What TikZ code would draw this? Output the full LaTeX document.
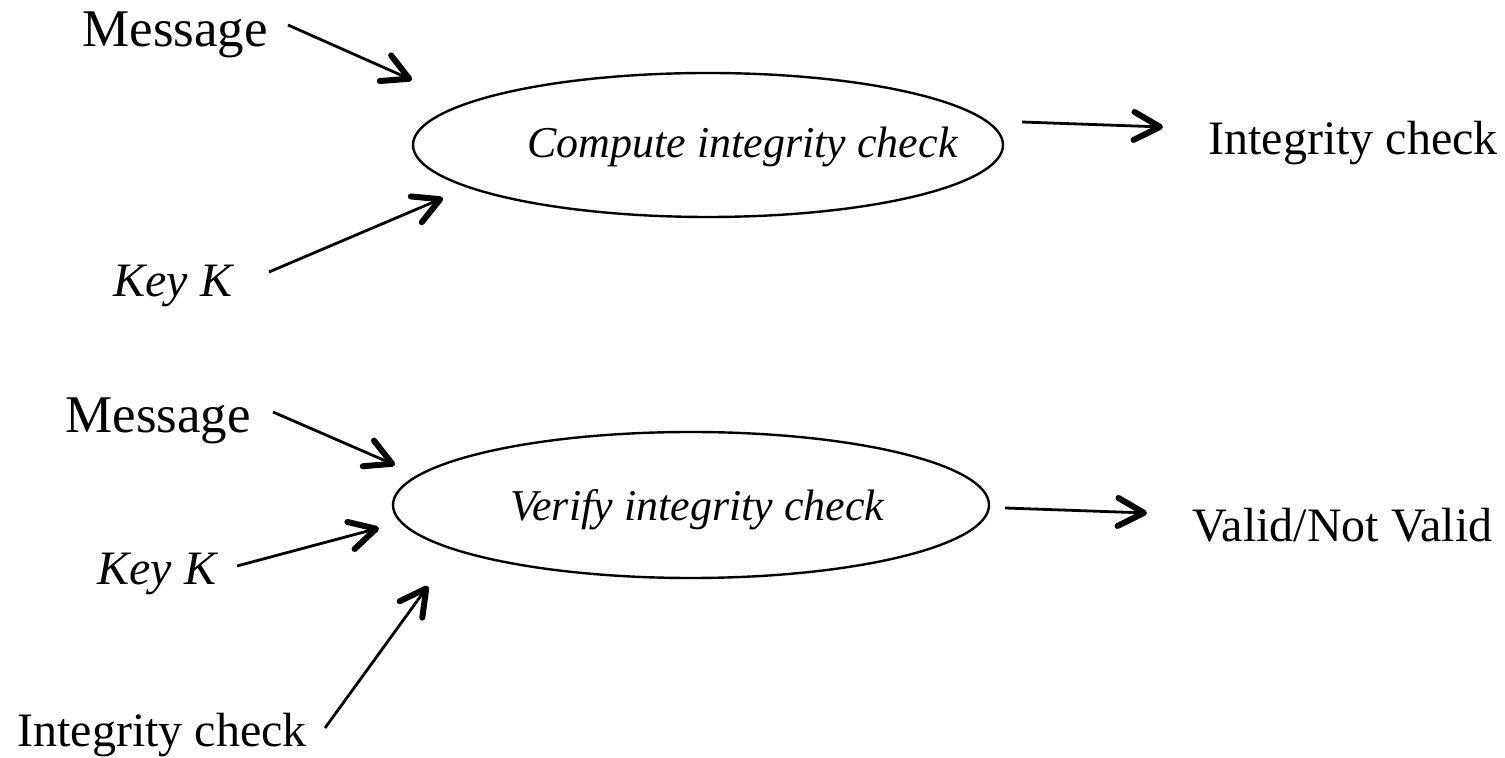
\documentclass[tikz,border=0pt]{standalone}
\usepackage{fontspec}
\setmainfont{Liberation Serif}
\usetikzlibrary{arrows.meta,shapes.geometric}
\begin{document}
\begin{tikzpicture}[x=0.5pt,y=-0.5pt,
  lbl/.style={anchor=base west,inner sep=0pt,font=\fontsize{24}{28}\selectfont},
  biglbl/.style={anchor=base west,inner sep=0pt,font=\fontsize{26.5}{30}\selectfont},
  itlbl/.style={anchor=base west,inner sep=0pt,font=\fontsize{24}{28}\selectfont\itshape},
  proclbl/.style={anchor=base west,inner sep=0pt,font=\fontsize{22}{26}\selectfont\itshape},
  proc/.style={draw,ellipse,line width=1.2pt,inner sep=0pt},
  arr/.style={line width=1.4pt,-{Straight Barb[length=13pt,width=14pt,line width=3pt,round]}}]
\useasboundingbox (0,0) rectangle (1505,758);

% processes
\node[proc,minimum width=295pt,minimum height=72pt] (e1) at (708,145) {};
\node[proclbl] (c1) at (527,158) {Compute integrity check};
\node[proc,minimum width=298pt,minimum height=73pt] (e2) at (691,505) {};
\node[proclbl] (c2) at (510,521) {Verify integrity check};

% inputs and outputs of the computation
\node[biglbl] (m1) at (82,47) {Message};
\node[itlbl] (k1) at (113,297) {Key K};
\node[lbl] (i1) at (1208,155) {Integrity check};

% inputs and outputs of the verification
\node[biglbl] (m2) at (65,433) {Message};
\node[itlbl] (k2) at (97,585) {Key K};
\node[lbl] (i2) at (17,747) {Integrity check};
\node[lbl] (v2) at (1192,542) {Valid/Not Valid};

% connector end points
\coordinate (m1s) at (288,25);  \coordinate (m1t) at (412,80);
\coordinate (k1s) at (269,272); \coordinate (k1t) at (443,198);
\coordinate (o1s) at (1022,122);\coordinate (o1t) at (1163,127);
\coordinate (m2s) at (273,412); \coordinate (m2t) at (395,465);
\coordinate (k2s) at (237,566); \coordinate (k2t) at (379,528);
\coordinate (i2s) at (325,728); \coordinate (i2t) at (428,586);
\coordinate (o2s) at (1005,508);\coordinate (o2t) at (1147,513);

\draw[arr] (m1s) -- (m1t);
\draw[arr] (k1s) -- (k1t);
\draw[arr] (o1s) -- (o1t);
\draw[arr] (m2s) -- (m2t);
\draw[arr] (k2s) -- (k2t);
\draw[arr] (i2s) -- (i2t);
\draw[arr] (o2s) -- (o2t);
\end{tikzpicture}
\end{document}
